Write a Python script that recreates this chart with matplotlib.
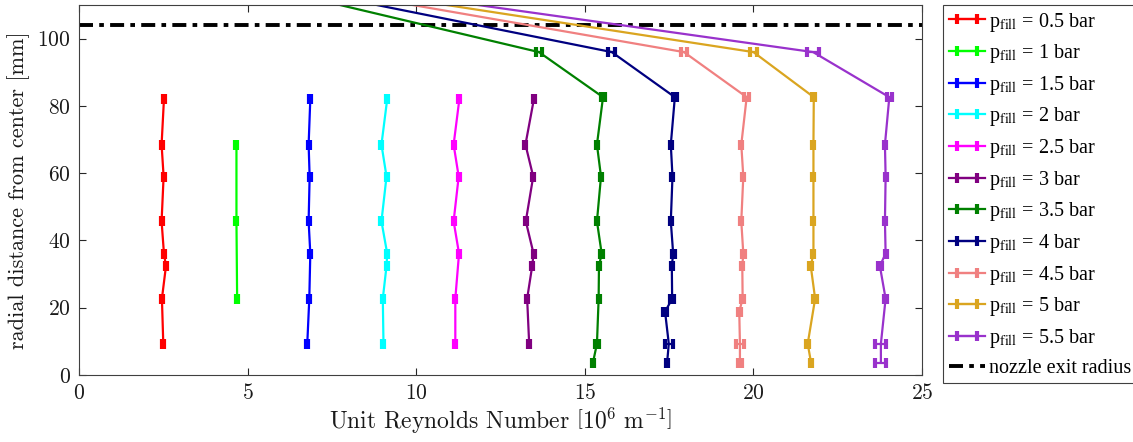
import matplotlib
matplotlib.use('Agg')
from matplotlib import pyplot as plt
from matplotlib.font_manager import FontProperties

plt.rcParams['font.family'] = 'serif'
plt.rcParams['font.serif'] = ['cmr10', 'DejaVu Serif']
plt.rcParams['mathtext.fontset'] = 'cm'
plt.rcParams['axes.formatter.use_mathtext'] = True

# unit Reynolds number [1e6 1/m] over radial position [mm], one entry per fill pressure
pressures = ['0.5', '1', '1.5', '2', '2.5', '3', '3.5', '4', '4.5', '5', '5.5']
colors = ['#ff0000', '#00ff00', '#0000ff', '#00ffff', '#ff00ff', '#800080',
          '#008000', '#000080', '#f08080', '#daa520', '#9932cc']

r_05 = [82.0, 68.5, 59.0, 45.7, 36.1, 32.4, 22.7, 9.3]
re_05 = [2.52, 2.45, 2.51, 2.45, 2.52, 2.58, 2.46, 2.50]
err_05 = [0.03, 0.03, 0.03, 0.03, 0.03, 0.03, 0.03, 0.03]

r_10 = [68.5, 45.7, 22.7]
re_10 = [4.67, 4.67, 4.69]
err_10 = [0.03, 0.03, 0.03]

r_15 = [82.0, 68.5, 59.0, 45.7, 36.1, 22.7, 9.3]
re_15 = [6.86, 6.81, 6.84, 6.81, 6.86, 6.83, 6.77]
err_15 = [0.03, 0.03, 0.03, 0.03, 0.03, 0.03, 0.03]

r_20 = [82.0, 68.5, 59.0, 45.7, 36.1, 32.4, 22.7, 9.3]
re_20 = [9.14, 8.97, 9.12, 8.97, 9.14, 9.12, 9.01, 9.03]
err_20 = [0.03, 0.03, 0.03, 0.03, 0.03, 0.03, 0.03, 0.03]

r_25 = [82.0, 68.5, 59.0, 45.7, 36.1, 22.7, 9.3]
re_25 = [11.28, 11.11, 11.26, 11.11, 11.27, 11.16, 11.16]
err_25 = [0.03, 0.03, 0.03, 0.03, 0.03, 0.03, 0.03]

r_30 = [82.0, 68.5, 59.0, 45.7, 36.1, 32.4, 22.7, 9.3]
re_30 = [13.49, 13.24, 13.47, 13.25, 13.48, 13.44, 13.29, 13.35]
err_30 = [0.03, 0.03, 0.03, 0.03, 0.03, 0.03, 0.03, 0.03]

r_35 = [123.0, 96.0, 82.6, 68.5, 59.0, 45.7, 36.1, 32.4, 22.7, 9.3, 3.6]
re_35 = [2.26, 13.64, 15.54, 15.36, 15.48, 15.36, 15.50, 15.42, 15.41, 15.36, 15.24]
err_35 = [0.1, 0.1, 0.05, 0.03, 0.03, 0.03, 0.04, 0.03, 0.03, 0.05, 0.04]

r_40 = [123.0, 96.0, 82.6, 68.5, 59.0, 45.7, 36.1, 32.4, 22.7, 18.8, 9.3, 3.6]
re_40 = [2.36, 15.80, 17.67, 17.55, 17.60, 17.55, 17.62, 17.58, 17.59, 17.38, 17.49, 17.44]
err_40 = [0.1, 0.1, 0.06, 0.03, 0.03, 0.03, 0.04, 0.03, 0.05, 0.05, 0.12, 0.04]

r_45 = [123.0, 96.0, 82.6, 68.5, 59.0, 45.7, 36.1, 32.4, 22.7, 18.8, 9.3, 3.6]
re_45 = [2.42, 17.94, 19.80, 19.64, 19.70, 19.64, 19.70, 19.67, 19.68, 19.58, 19.60, 19.60]
err_45 = [0.1, 0.1, 0.08, 0.03, 0.03, 0.03, 0.04, 0.03, 0.04, 0.05, 0.13, 0.05]

r_50 = [123.0, 96.0, 82.6, 68.5, 59.0, 45.7, 36.1, 32.4, 22.7, 9.3, 3.6]
re_50 = [2.45, 20.00, 21.79, 21.78, 21.78, 21.78, 21.78, 21.70, 21.83, 21.61, 21.71]
err_50 = [0.1, 0.1, 0.04, 0.03, 0.03, 0.03, 0.03, 0.05, 0.06, 0.04, 0.04]

r_55 = [123.0, 96.0, 82.6, 68.5, 59.0, 45.7, 36.1, 32.4, 22.7, 9.3, 3.6]
re_55 = [2.60, 21.77, 24.03, 23.90, 23.92, 23.90, 23.92, 23.75, 23.92, 23.78, 23.78]
err_55 = [0.1, 0.17, 0.08, 0.03, 0.03, 0.03, 0.03, 0.06, 0.05, 0.16, 0.16]

nozzle_radius = 104.0

radii = [r_05, r_10, r_15, r_20, r_25, r_30, r_35, r_40, r_45, r_50, r_55]
reynolds = [re_05, re_10, re_15, re_20, re_25, re_30, re_35, re_40, re_45, re_50, re_55]
errors = [err_05, err_10, err_15, err_20, err_25, err_30, err_35, err_40, err_45, err_50, err_55]

fig = plt.figure(figsize=(11.33, 4.42), dpi=100)
ax = fig.add_axes([0.0697, 0.1516, 0.7441, 0.8371])

handles = []
for p, c, r, re, e in zip(pressures, colors, radii, reynolds, errors):
    h = ax.errorbar(re, r, xerr=e, color=c, lw=1.6, capsize=3.6, capthick=3,
                    label=r'p$_{\mathrm{fill}}$ = ' + p + ' bar')
    handles.append(h)

nz = ax.axhline(nozzle_radius, color='k', lw=2.8, linestyle=(0, (3.6, 1.6, 1.2, 1.6)),
                label='nozzle exit radius')
handles.append(nz)

ax.set_xlim(0, 25)
ax.set_ylim(0, 110)
ax.set_xticks([0, 5, 10, 15, 20, 25])
ax.set_yticks([0, 20, 40, 60, 80, 100])
ax.tick_params(direction='in', length=5, width=0.8, top=True, right=True,
               labelsize=15.5, colors='0.15', pad=6)
ax.tick_params(labelcolor='0.1')
for s in ax.spines.values():
    s.set_linewidth(0.8)
    s.set_color('0.25')

ax.set_xlabel(r'Unit Reynolds Number $\left[10^6\ \mathrm{m}^{-1}\right]$', fontsize=17,
              color='0.1', labelpad=2)
ax.set_ylabel('radial distance from center [mm]', fontsize=16, color='0.1', labelpad=5)

leg_font = FontProperties(family='Liberation Serif', size=14.5, math_fontfamily='stix')
leg = ax.legend(handles=handles, loc='upper left', bbox_to_anchor=(0.8325, 0.989),
                bbox_transform=fig.transFigure, prop=leg_font, fancybox=False,
                edgecolor='0.25', framealpha=1, borderpad=0.28, labelspacing=0.43,
                handlelength=1.8, handletextpad=0.2, borderaxespad=0)
leg.get_frame().set_linewidth(0.8)

fig.savefig('out.png', dpi=100)
